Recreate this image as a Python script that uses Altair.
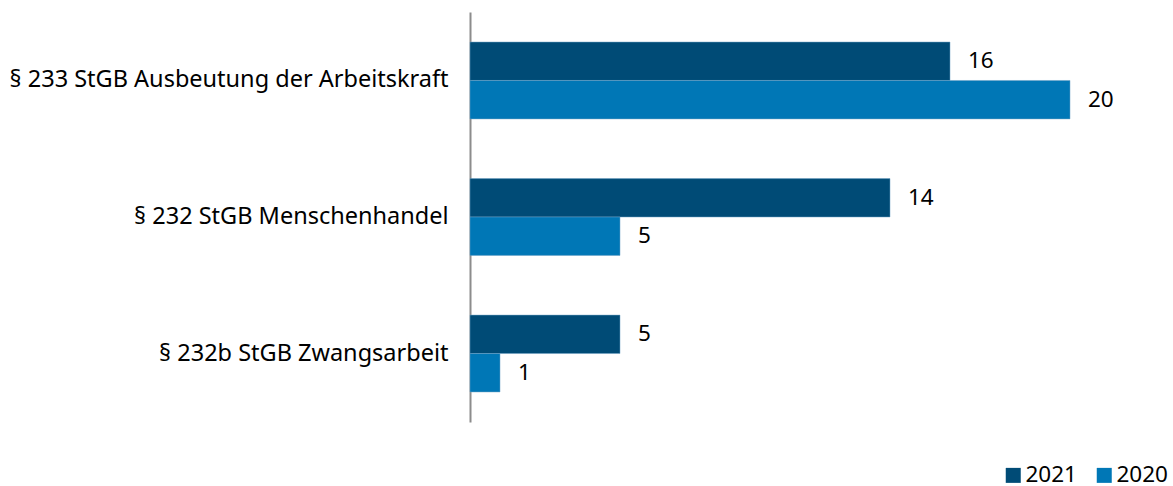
import altair as alt
import pandas as pd

categories = ["§ 233 StGB Ausbeutung der Arbeitskraft", "§ 232 StGB Menschenhandel", "§ 232b StGB Zwangsarbeit"]
years = ["2021", "2020"]
values_2021 = [16, 14, 5]
values_2020 = [20, 5, 1]

rows = []
for c, v in zip(categories, values_2021):
    rows.append({"cat": c, "year": "2021", "value": v})
for c, v in zip(categories, values_2020):
    rows.append({"cat": c, "year": "2020", "value": v})
df = pd.DataFrame(rows)

FONT = "Noto Sans"
FS = 22.5

y_enc = alt.Y("cat:N", sort=categories, title=None,
              scale=alt.Scale(paddingInner=0.437, paddingOuter=0.22),
              axis=alt.Axis(labelFontSize=23.5, labelColor="#000000", labelFont=FONT,
                            ticks=False, labelPadding=22, domainColor="#8c8c8c",
                            domainWidth=2, labelLimit=600))
yoff = alt.YOffset("year:N", sort=years)
x_enc = alt.X("value:Q", title=None, scale=alt.Scale(domain=[0, 21], nice=False),
              axis=None)

bars = alt.Chart(df).mark_bar(stroke="#6fa3c4", strokeWidth=0.5).encode(
    y=y_enc, yOffset=yoff, x=x_enc,
    color=alt.Color("year:N", sort=years,
                    scale=alt.Scale(domain=years, range=["#004B76", "#0077B6"]),
                    legend=alt.Legend(title=None, orient="none", direction="horizontal",
                                      legendX=532, legendY=452, symbolType="square",
                                      symbolSize=225, symbolStrokeWidth=0,
                                      labelFontSize=FS, labelFont=FONT, labelColor="#000000",
                                      columnPadding=16, labelOffset=1)),
)

labels = alt.Chart(df).mark_text(align="left", baseline="middle", dx=18,
                                 fontSize=FS, font=FONT, color="#000000").encode(
    y=alt.Y("cat:N", sort=categories), yOffset=yoff, x="value:Q", text="value:Q"
)

chart = (bars + labels).properties(
    width=630, height=410,
    autosize=alt.AutoSizeParams(type="none"),
    padding={"left": 470, "top": 12, "right": 73, "bottom": 64},
).configure_view(stroke=None)

chart.save("out.html", embed_options={"renderer": "svg", "actions": False})
